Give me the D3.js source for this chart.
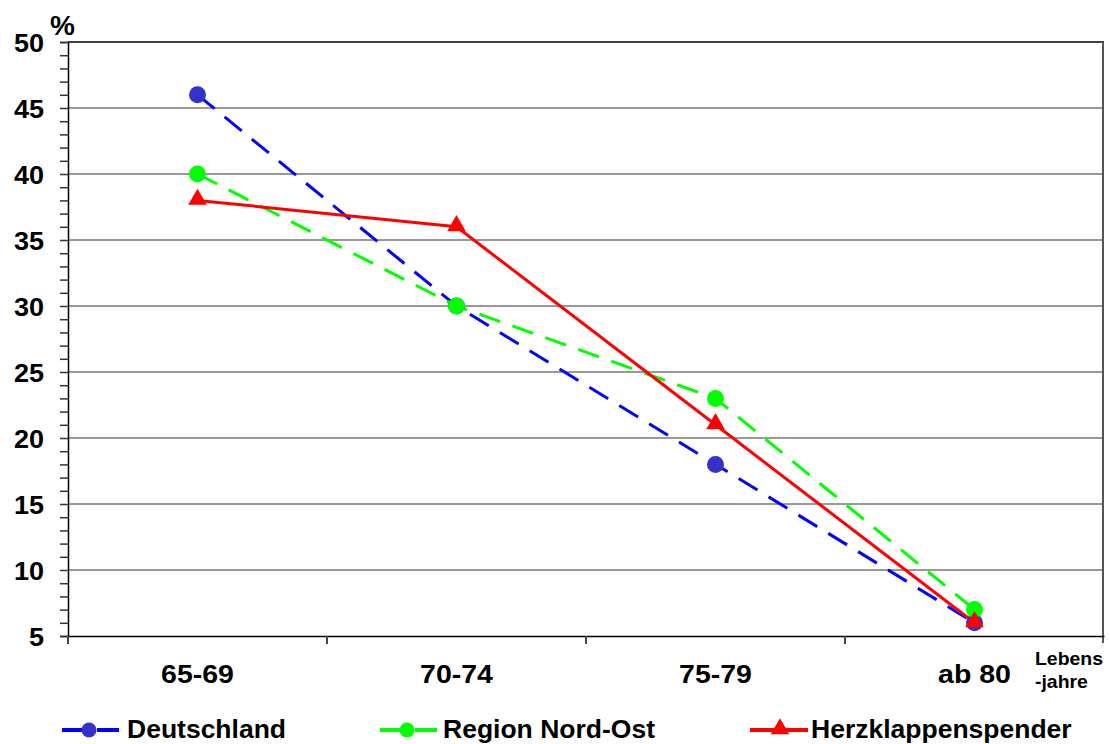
<!DOCTYPE html>
<html>
<head>
<meta charset="utf-8">
<script src="https://cdn.jsdelivr.net/npm/d3@7"></script>
<style>
  body { margin: 0; background: #fff; }
  text { font-family: "Liberation Sans", Arial, sans-serif; font-weight: bold; }
</style>
</head>
<body>
<div id="chart"></div>
<script>
// Data
var categories = ["65-69", "70-74", "75-79", "ab 80"];
var deutschland = [46, 30, 18, 6];
var nordOst = [40, 30, 23, 7];
var herzklappen = [38, 36, 21, 6];
var yTicks = [5, 10, 15, 20, 25, 30, 35, 40, 45, 50];

var series = [
    { name: "Deutschland", values: deutschland, line: "#0000ff", marker: "#3333cc", dash: "22,13", shape: "circle" },
    { name: "Region Nord-Ost", values: nordOst, line: "#00ff00", marker: "#00ff00", dash: "22,13", shape: "circle" },
    { name: "Herzklappenspender", values: herzklappen, line: "#ff0000", marker: "#ff0000", dash: null, shape: "triangle" }
];

// Canvas and margins
var svgWidth = 1110;
var svgHeight = 744;
var margin = { top: 42, left: 68, right: 6, bottom: 108 };
var width = svgWidth - margin.left - margin.right;
var height = svgHeight - margin.top - margin.bottom;

var svg = d3.select("#chart")
    .append("svg")
    .attr("width", svgWidth)
    .attr("height", svgHeight);

var chartGroup = svg.append("g")
    .attr("transform", `translate(${margin.left}, ${margin.top})`);

// Scales
var xScale = d3.scaleBand()
    .domain(categories)
    .range([0, width]);
var yScale = d3.scaleLinear()
    .domain([5, 50])
    .range([height, 0]);

// Gridlines
chartGroup.selectAll(".grid")
    .data(yTicks.filter(d => d > 5))
    .enter()
    .append("line")
    .attr("x1", 0)
    .attr("x2", width)
    .attr("y1", d => yScale(d))
    .attr("y2", d => yScale(d))
    .attr("stroke", d => d === 50 ? "#000" : "#333")
    .attr("stroke-width", d => d === 50 ? 1.5 : 1);

// Right border
chartGroup.append("line")
    .attr("x1", width - 1)
    .attr("x2", width - 1)
    .attr("y1", 0)
    .attr("y2", height + 7)
    .attr("stroke", "#555")
    .attr("stroke-width", 2);

// Y axis: minor ticks every unit, labels every 5
var yStretch = 1.08;
var leftAxis = d3.axisLeft(yScale)
    .tickValues(d3.range(5, 51, 1))
    .tickSize(8)
    .tickFormat(d => d % 5 === 0 ? d : "");
var yAxisG = chartGroup.append("g").call(leftAxis);
yAxisG.select(".domain").attr("stroke", "#000").attr("stroke-width", 1.5);
yAxisG.selectAll(".tick line").attr("stroke", "#333").attr("stroke-width", 1.5);
yAxisG.selectAll(".tick text")
    .attr("x", -24 / yStretch)
    .attr("dy", "0.38em")
    .attr("transform", `scale(${yStretch},1)`)
    .attr("font-size", 25)
    .attr("font-weight", "bold")
    .attr("font-family", "Liberation Sans, Arial, sans-serif")
    .attr("fill", "#000");

// X axis
var xStretch = 1.14;
var bottomAxis = d3.axisBottom(xScale).tickSize(0);
var xAxisG = chartGroup.append("g")
    .attr("transform", `translate(0, ${height})`)
    .call(bottomAxis);
xAxisG.select(".domain").attr("stroke", "#000").attr("stroke-width", 1.5);
xAxisG.selectAll(".tick text")
    .attr("y", 47)
    .attr("dy", 0)
    .attr("transform", `scale(${xStretch},1)`)
    .attr("font-size", 25)
    .attr("font-weight", "bold")
    .attr("font-family", "Liberation Sans, Arial, sans-serif")
    .attr("fill", "#000");

// Category separator ticks
chartGroup.selectAll(".xsep")
    .data(categories)
    .enter()
    .append("line")
    .attr("x1", d => xScale(d))
    .attr("x2", d => xScale(d))
    .attr("y1", height)
    .attr("y2", height + 8)
    .attr("stroke", "#444")
    .attr("stroke-width", 2);

// Axis labels
svg.append("text")
    .attr("x", 50)
    .attr("y", 35)
    .attr("font-size", 28)
    .text("%");

var unitLabel = svg.append("text")
    .attr("font-size", 18)
    .attr("transform", "translate(1035,0) scale(1.08,1)");
unitLabel.append("tspan").attr("x", 0).attr("y", 665).text("Lebens");
unitLabel.append("tspan").attr("x", 0).attr("y", 688).text("-jahre");

// Lines
var line = d3.line()
    .x((d, i) => xScale(categories[i]) + xScale.bandwidth() / 2)
    .y(d => yScale(d));

var triangle = d3.symbol().type(d3.symbolTriangle).size(150);

series.forEach(function (s) {
    chartGroup.append("path")
        .datum(s.values)
        .attr("fill", "none")
        .attr("stroke", s.line)
        .attr("stroke-width", 3)
        .attr("stroke-dasharray", s.dash)
        .attr("d", line);
});

series.forEach(function (s) {
    var pts = chartGroup.selectAll(null)
        .data(s.values)
        .enter();
    if (s.shape === "circle") {
        pts.append("circle")
            .attr("cx", (d, i) => xScale(categories[i]) + xScale.bandwidth() / 2)
            .attr("cy", d => yScale(d))
            .attr("r", 8.5)
            .attr("fill", s.marker);
    } else {
        pts.append("path")
            .attr("d", triangle)
            .attr("transform", (d, i) => `translate(${xScale(categories[i]) + xScale.bandwidth() / 2}, ${yScale(d) - 1})`)
            .attr("fill", s.marker);
    }
});

// Legend
var legendX = [62, 380, 750];
var legendTextX = [65, 63, 61];
var legend = svg.selectAll(".legend")
    .data(series)
    .enter()
    .append("g")
    .attr("transform", (d, i) => `translate(${legendX[i]}, 730)`);

legend.append("line")
    .attr("x1", 0)
    .attr("x2", 58)
    .attr("stroke", d => d.line)
    .attr("stroke-width", 4)
    .attr("stroke-dasharray", d => d.dash ? "22,13" : null);

legend.each(function (d) {
    var g = d3.select(this);
    if (d.shape === "circle") {
        g.append("circle").attr("cx", 27).attr("r", 7.5).attr("fill", d.marker);
    } else {
        g.append("path").attr("d", triangle).attr("transform", "translate(30, -1)").attr("fill", d.marker);
    }
});

legend.append("text")
    .attr("x", (d, i) => legendTextX[i])
    .attr("y", 8)
    .attr("font-size", 26.5)
    .text(d => d.name);
</script>
</body>
</html>
